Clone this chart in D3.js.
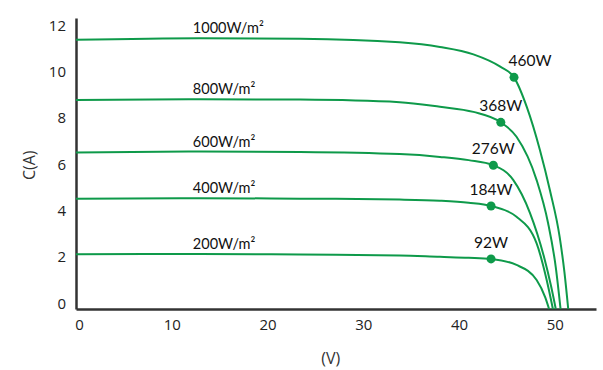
<!DOCTYPE html>
<html>
<head>
<meta charset="utf-8">
<script src="https://cdn.jsdelivr.net/npm/d3@7"></script>
<style>
  html, body { margin: 0; padding: 0; background: #fff; }
  svg { display: block; }
</style>
</head>
<body>
<svg id="chart" width="603" height="370"></svg>
<script>
// ---- data ----
const irradianceLabels = ["1000W/m²", "800W/m²", "600W/m²", "400W/m²", "200W/m²"];
const curve1000 = [[0,11.61],[12.9,11.68],[23.4,11.66],[33.8,11.5],[38.0,11.3],[41.5,10.98],[44.3,10.45],[45.74,9.99],[47.07,8.72],[48.45,6.85],[49.5,5.1],[50.5,3.12],[51.0,1.6],[51.4,0]];
const curve800  = [[0,9.01],[12.9,9.05],[23.4,9.03],[33.8,8.92],[38.0,8.72],[41.5,8.5],[44.36,8.05],[46.0,7.43],[48.1,5.56],[49.3,3.7],[50.1,1.8],[50.6,0]];
const curve600  = [[0,6.75],[12.9,6.79],[23.4,6.77],[33.8,6.68],[38.0,6.56],[41.0,6.42],[43.58,6.2],[45.67,5.56],[47.4,4.15],[48.9,2.2],[49.6,1.0],[50.1,0]];
const curve400  = [[0,4.75],[12.9,4.78],[23.4,4.76],[33.8,4.72],[38.0,4.67],[41.0,4.58],[43.34,4.44],[46.0,3.98],[48.1,2.83],[49.15,1.25],[49.8,0]];
const curve200  = [[0,2.36],[12.9,2.37],[23.4,2.35],[33.8,2.31],[38.0,2.25],[41.0,2.21],[43.34,2.16],[46.0,1.9],[48.1,1.25],[49.0,0.5],[49.4,0]];
const curves = [curve1000, curve800, curve600, curve400, curve200];

const mppV = [45.74, 44.36, 43.58, 43.34, 43.34];
const mppI = [9.99, 8.05, 6.2, 4.44, 2.16];
const mppLabels = ["460W", "368W", "276W", "184W", "92W"];

const xTicks = [0, 10, 20, 30, 40, 50];
const yTicks = [0, 2, 4, 6, 8, 10, 12];
const xTitle = "(V)";
const yTitle = "C(A)";

// ---- drawing ----
const svg = d3.select("#chart");
const green = "#0e9a4a";
const axisColor = "#333333";

const x = d3.scaleLinear().domain([0, 54.3]).range([76, 596]);
const y = d3.scaleLinear().domain([0, 12.55]).range([309, 18]);

// axes
const xAxis = d3.axisBottom(x).tickValues(xTicks).tickSize(0).tickPadding(10).tickFormat(d3.format("d"));
const gx = svg.append("g").attr("transform", `translate(0,${y(0)})`).call(xAxis);
gx.select(".domain").attr("stroke", axisColor).attr("stroke-width", 2.5);
gx.selectAll("text").attr("font-family", "'Open Sans', sans-serif").attr("font-size", 15).attr("fill", "#222")
  .attr("dx", d => d === 0 ? 3 : 0);

const yAxis = d3.axisLeft(y).tickValues(yTicks).tickSize(0).tickPadding(10).tickFormat(d3.format("d"));
const gy = svg.append("g").attr("transform", `translate(${x(0)},0)`).call(yAxis);
gy.select(".domain").attr("stroke", axisColor).attr("stroke-width", 2.5);
gy.selectAll("text").attr("font-family", "'Open Sans', sans-serif").attr("font-size", 15).attr("fill", "#222")
  .attr("dy", "-0.05em");

// axis titles
svg.append("text").attr("x", x(26.6)).attr("y", 364).attr("text-anchor", "middle")
  .attr("font-family", "'Open Sans', sans-serif").attr("font-size", 16).attr("fill", "#333").text(xTitle);
svg.append("text").attr("transform", `translate(35,${y(6.2)}) rotate(-90)`).attr("text-anchor", "middle")
  .attr("font-family", "'Open Sans', sans-serif").attr("font-size", 16).attr("fill", "#333").text(yTitle);

// curves
const line = d3.line().x(d => x(d[0])).y(d => y(d[1])).curve(d3.curveMonotoneX);
svg.append("g").selectAll("path").data(curves).join("path")
  .attr("d", line).attr("fill", "none").attr("stroke", green).attr("stroke-width", 2);

// irradiance labels
svg.append("g").selectAll("text").data(curves).join("text")
  .attr("x", x(12.2)).attr("y", d => y(d[1][1]) - 5)
  .attr("font-family", "Lato, sans-serif").attr("font-size", 14.5).attr("fill", "#111")
  .text((d, i) => irradianceLabels[i]);

// MPP points
svg.append("g").selectAll("circle").data(mppV).join("circle")
  .attr("cx", d => x(d)).attr("cy", (d, i) => y(mppI[i])).attr("r", 4.5).attr("fill", green);

svg.append("g").selectAll("text").data(mppV).join("text")
  .attr("x", (d, i) => x(d) + (i === 0 ? 16 : 0)).attr("y", (d, i) => y(mppI[i]) - 11)
  .attr("text-anchor", "middle")
  .attr("font-family", "Lato, sans-serif").attr("font-size", 15.5).attr("fill", "#111")
  .text((d, i) => mppLabels[i]);
</script>
</body>
</html>
